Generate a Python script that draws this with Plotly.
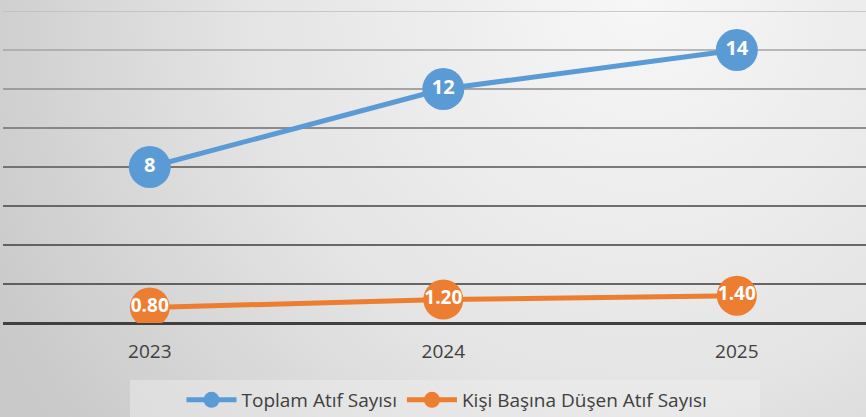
import base64
import plotly.graph_objects as go

years = ["2023", "2024", "2025"]
toplam_atif = [8, 12, 14]
kisi_basina = [0.80, 1.20, 1.40]
toplam_labels = ["8", "12", "14"]
kisi_labels = ["0.80", "1.20", "1.40"]
grid_levels = [2, 4, 6, 8, 10, 12, 14, 16]
grid_colors = ["#3a3a3a", "#3e3e3e", "#444444", "#555555", "#6e6e6e", "#8c8c8c", "#a4a4a4", "#bdbdbd"]

W, H = 866, 417
L, R, T, B = 3, 0, 11, 94

svg = f'''<svg xmlns="http://www.w3.org/2000/svg" width="{W}" height="{H}" viewBox="0 0 {W} {H}">
<defs><radialGradient id="g" cx="640" cy="0" r="720" gradientUnits="userSpaceOnUse">
<stop offset="0" stop-color="#f7f7f7"/><stop offset="0.55" stop-color="#e4e4e4"/><stop offset="1" stop-color="#c9c9c9"/>
</radialGradient></defs>
<rect width="{W}" height="{H}" fill="url(#g)"/></svg>'''
src = "data:image/svg+xml;base64," + base64.b64encode(svg.encode()).decode()

pw, ph = W - L - R, H - T - B


def px_x(p):
    return (p - L) / pw


def px_y(p):
    return (H - B - p) / ph


fig = go.Figure()
fig.add_trace(go.Scatter(
    x=years, y=toplam_atif, name="Toplam Atıf Sayısı",
    mode="lines+markers+text", text=toplam_labels, textposition="middle center",
    line=dict(color="#5B9BD5", width=5),
    marker=dict(size=42, color="#5B9BD5"),
    textfont=dict(color="white", size=20, family="Open Sans", weight="bold"),
))
fig.add_trace(go.Scatter(
    x=years, y=kisi_basina, name="Kişi Başına Düşen Atıf Sayısı",
    mode="lines+markers+text", text=kisi_labels, textposition="middle center",
    line=dict(color="#ED7D31", width=5),
    marker=dict(size=40, color="#ED7D31"),
    textfont=dict(color="white", size=19, family="Open Sans", weight="bold"),
))

for lv, c in zip(grid_levels, grid_colors):
    fig.add_shape(type="line", xref="paper", yref="y", x0=0, x1=1, y0=lv, y1=lv,
                  line=dict(color=c, width=1.6), layer="below")

# legend box
fig.add_shape(type="rect", xref="paper", yref="paper",
              x0=px_x(130), x1=px_x(760), y0=px_y(425), y1=px_y(380),
              fillcolor="rgba(240,240,240,0.45)", line=dict(width=0), layer="below")

fig.add_layout_image(dict(source=src, xref="paper", yref="paper",
                          x=-L / pw, y=1 + T / ph, sizex=W / pw, sizey=H / ph,
                          xanchor="left", yanchor="top", sizing="stretch", layer="below"))

fig.update_layout(
    width=W, height=H, margin=dict(l=L, r=R, t=T, b=B, autoexpand=False),
    paper_bgcolor="#dcdcdc", plot_bgcolor="rgba(0,0,0,0)",
    font=dict(family="Open Sans", color="#404040"),
    showlegend=True,
    legend=dict(orientation="h", x=px_x(447), xanchor="center",
                y=px_y(400), yanchor="middle",
                bgcolor="rgba(0,0,0,0)", font=dict(size=19, color="#404040"),
                itemwidth=50, entrywidth=0),
    xaxis=dict(type="category", range=[-0.5, 2.44], showgrid=False, zeroline=False,
               showline=False, ticks="", tickfont=dict(size=19, color="#404040"),
               ticklabelstandoff=15, fixedrange=True, automargin=False),
    yaxis=dict(range=[0, 16], showgrid=False, zeroline=True, zerolinecolor="#404040",
               zerolinewidth=3, showticklabels=False, ticks="", fixedrange=True,
               automargin=False),
)

fig.write_html("out.html")
